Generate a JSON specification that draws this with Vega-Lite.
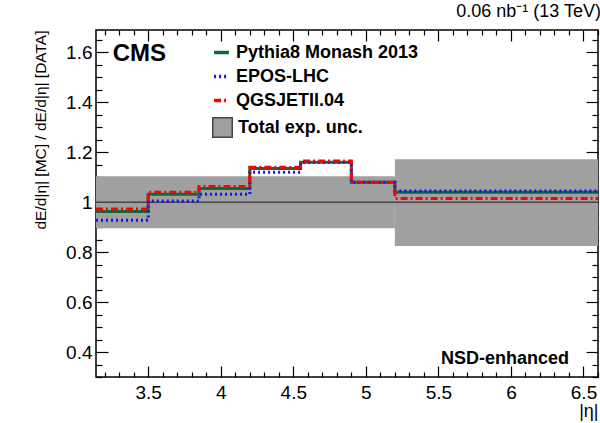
{
  "$schema": "https://vega.github.io/schema/vega-lite/v6.json",
  "width": 502,
  "height": 347,
  "autosize": "none",
  "padding": {"left": 96, "top": 30, "right": 2, "bottom": 46},
  "background": "white",
  "title": {"text": "0.06 nb⁻¹ (13 TeV)", "anchor": "end", "fontSize": 18, "fontWeight": "normal", "font": "Liberation Sans", "color": "#000", "offset": 8, "dx": -3},
  "config": {
    "view": {"stroke": "#000", "strokeWidth": 1.5},
    "axis": {"grid": false, "domain": false, "tickColor": "#000", "tickWidth": 1.2, "labelFont": "Liberation Sans", "labelFontSize": 19, "labelColor": "#000", "titleFont": "Liberation Sans", "titleColor": "#000", "titleFontWeight": "normal"},
    "legend": {"labelFont": "Liberation Sans", "labelFontSize": 18, "labelFontWeight": "bold", "labelColor": "#000", "labelLimit": 400}
  },
  "resolve": {"axis": {"x": "independent", "y": "independent"}},
  "layer": [
    {
      "data": {"values": [
        {"unc": "Total exp. unc.", "x0": 3.14, "x1": 5.2, "lo": 0.896, "hi": 1.104},
        {"unc": "Total exp. unc.", "x0": 5.2, "x1": 6.6, "lo": 0.825, "hi": 1.172}
      ]},
      "mark": {"type": "rect"},
      "encoding": {
        "x": {"field": "x0", "type": "quantitative", "scale": {"domain": [3.14, 6.6], "nice": false, "zero": false},
          "axis": {"orient": "bottom", "values": [3.5, 4, 4.5, 5, 5.5, 6, 6.5], "format": "~g", "tickSize": -11, "labelPadding": 17, "title": "|η|", "titleAnchor": "end", "titleFontSize": 18, "titlePadding": 0}},
        "x2": {"field": "x1"},
        "y": {"field": "lo", "type": "quantitative", "scale": {"domain": [0.3, 1.69], "nice": false, "zero": false},
          "axis": {"orient": "left", "values": [0.4, 0.6, 0.8, 1, 1.2, 1.4, 1.6], "format": "~g", "tickSize": -12, "labelPadding": 16, "title": "dE/d|η| [MC] / dE/d|η| [DATA]", "titleAnchor": "end", "titleFontSize": 15.5, "titleX": -48, "titleY": 0, "titleAlign": "right", "titleAngle": -90, "titleBaseline": "bottom"}},
        "y2": {"field": "hi"},
        "fill": {"field": "unc", "type": "nominal", "scale": {"range": ["#a0a0a0"]},
          "legend": {"title": null, "orient": "none", "legendX": 116, "legendY": 87, "symbolType": "square", "symbolSize": 380, "symbolStrokeColor": "#444", "symbolStrokeWidth": 1.5, "labelOffset": 5}}
      }
    },
    {
      "data": {"values": [{"ref": 1}]},
      "mark": {"type": "rule", "color": "#444", "strokeWidth": 1.5},
      "encoding": {
        "y": {"field": "ref", "type": "quantitative",
          "axis": {"orient": "left", "values": [0.3, 0.35, 0.45, 0.5, 0.55, 0.65, 0.7, 0.75, 0.85, 0.9, 0.95, 1.05, 1.1, 1.15, 1.25, 1.3, 1.35, 1.45, 1.5, 1.55, 1.65], "tickSize": -6, "labels": false, "title": null}}
      }
    },
    {
      "data": {"values": [
        {"model": "Pythia8 Monash 2013", "x": 3.14, "v": 0.963},
        {"model": "Pythia8 Monash 2013", "x": 3.5, "v": 1.032},
        {"model": "Pythia8 Monash 2013", "x": 3.85, "v": 1.055},
        {"model": "Pythia8 Monash 2013", "x": 4.2, "v": 1.135},
        {"model": "Pythia8 Monash 2013", "x": 4.55, "v": 1.16},
        {"model": "Pythia8 Monash 2013", "x": 4.9, "v": 1.08},
        {"model": "Pythia8 Monash 2013", "x": 5.2, "v": 1.04},
        {"model": "Pythia8 Monash 2013", "x": 6.6, "v": 1.04},
        {"model": "EPOS-LHC", "x": 3.14, "v": 0.928},
        {"model": "EPOS-LHC", "x": 3.5, "v": 1.005},
        {"model": "EPOS-LHC", "x": 3.85, "v": 1.032},
        {"model": "EPOS-LHC", "x": 4.2, "v": 1.12},
        {"model": "EPOS-LHC", "x": 4.55, "v": 1.16},
        {"model": "EPOS-LHC", "x": 4.9, "v": 1.08},
        {"model": "EPOS-LHC", "x": 5.2, "v": 1.045},
        {"model": "EPOS-LHC", "x": 6.6, "v": 1.045},
        {"model": "QGSJETII.04", "x": 3.14, "v": 0.973},
        {"model": "QGSJETII.04", "x": 3.5, "v": 1.04},
        {"model": "QGSJETII.04", "x": 3.85, "v": 1.063},
        {"model": "QGSJETII.04", "x": 4.2, "v": 1.14},
        {"model": "QGSJETII.04", "x": 4.55, "v": 1.165},
        {"model": "QGSJETII.04", "x": 4.9, "v": 1.08},
        {"model": "QGSJETII.04", "x": 5.2, "v": 1.015},
        {"model": "QGSJETII.04", "x": 6.6, "v": 1.015}
      ]},
      "mark": {"type": "line", "interpolate": "step-after", "strokeWidth": 3},
      "encoding": {
        "x": {"field": "x", "type": "quantitative",
          "axis": {"orient": "top", "values": [3.5, 4, 4.5, 5, 5.5, 6, 6.5], "tickSize": -11, "labels": false, "title": null}},
        "y": {"field": "v", "type": "quantitative",
          "axis": {"orient": "right", "values": [0.4, 0.6, 0.8, 1, 1.2, 1.4, 1.6], "tickSize": -12, "labels": false, "title": null}},
        "color": {"field": "model", "type": "nominal",
          "scale": {"domain": ["Pythia8 Monash 2013", "EPOS-LHC", "QGSJETII.04"], "range": ["#0b6b37", "#1010ff", "#ff0000"]},
          "legend": {"title": null, "orient": "none", "legendX": 116, "legendY": 13, "symbolType": "stroke", "symbolSize": 220, "symbolStrokeWidth": 3.5, "labelOffset": 5, "rowPadding": 5}},
        "strokeDash": {"field": "model", "type": "nominal",
          "scale": {"domain": ["Pythia8 Monash 2013", "EPOS-LHC", "QGSJETII.04"], "range": [[1, 0], [2, 3], [7, 3, 2, 3]]},
          "legend": {"title": null, "orient": "none", "legendX": 116, "legendY": 13, "symbolType": "stroke", "symbolSize": 220, "symbolStrokeWidth": 3.5, "labelOffset": 5, "rowPadding": 5}}
      }
    },
    {
      "data": {"values": [{}]},
      "mark": {"type": "text", "text": "CMS", "font": "Liberation Sans", "fontWeight": "bold", "fontSize": 24, "align": "left", "baseline": "alphabetic", "color": "#000"},
      "encoding": {
        "x": {"datum": 3.255, "type": "quantitative",
          "axis": {"orient": "bottom", "values": [3.2, 3.3, 3.4, 3.6, 3.7, 3.8, 3.9, 4.1, 4.2, 4.3, 4.4, 4.6, 4.7, 4.8, 4.9, 5.1, 5.2, 5.3, 5.4, 5.6, 5.7, 5.8, 5.9, 6.1, 6.2, 6.3, 6.4, 6.6], "tickSize": -5, "labels": false, "title": null}},
        "y": {"datum": 1.565, "type": "quantitative",
          "axis": {"orient": "right", "values": [0.3, 0.35, 0.45, 0.5, 0.55, 0.65, 0.7, 0.75, 0.85, 0.9, 0.95, 1.05, 1.1, 1.15, 1.25, 1.3, 1.35, 1.45, 1.5, 1.55, 1.65], "tickSize": -6, "labels": false, "title": null}}
      }
    },
    {
      "data": {"values": [{}]},
      "mark": {"type": "text", "text": "NSD-enhanced", "font": "Liberation Sans", "fontWeight": "bold", "fontSize": 18, "align": "right", "baseline": "alphabetic", "color": "#000"},
      "encoding": {
        "x": {"datum": 6.4, "type": "quantitative",
          "axis": {"orient": "top", "values": [3.2, 3.3, 3.4, 3.6, 3.7, 3.8, 3.9, 4.1, 4.2, 4.3, 4.4, 4.6, 4.7, 4.8, 4.9, 5.1, 5.2, 5.3, 5.4, 5.6, 5.7, 5.8, 5.9, 6.1, 6.2, 6.3, 6.4, 6.6], "tickSize": -5, "labels": false, "title": null}},
        "y": {"datum": 0.352, "type": "quantitative", "axis": null}
      }
    }
  ]
}
